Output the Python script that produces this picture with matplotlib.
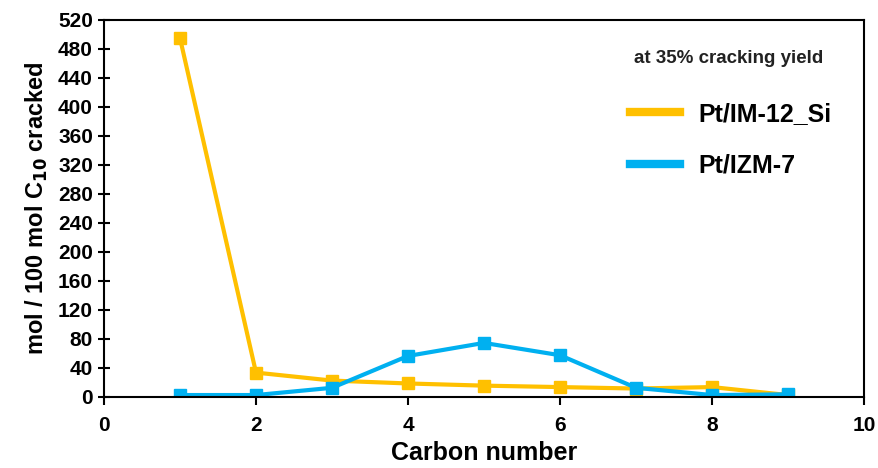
import matplotlib.pyplot as plt

plt.rcParams['font.family'] = ['Liberation Sans', 'DejaVu Sans']
plt.rcParams['font.weight'] = 'bold'

carbon = [1, 2, 3, 4, 5, 6, 7, 8, 9]
im12_si = [495, 33, 22, 18, 15, 13, 11, 13, 2]
izm7 = [2, 2, 12, 56, 74, 57, 12, 2, 3]

fig = plt.figure(figsize=(8.79, 4.68), dpi=100)
ax = fig.add_axes([104 / 879, 1 - 396.5 / 468, 760 / 879, 376.5 / 468])

ax.plot(carbon, im12_si, color='#FFC000', lw=3, marker='s', ms=9, label='Pt/IM-12_Si')
ax.plot(carbon, izm7, color='#00B0F0', lw=3, marker='s', ms=9, label='Pt/IZM-7')

ax.set_xlim(0, 10)
ax.set_ylim(0, 520)
ax.set_xticks(range(0, 11, 2))
ax.set_yticks(range(0, 521, 40))
ax.tick_params(axis='x', direction='out', length=6, width=1.5, labelsize=15, pad=8)
ax.tick_params(axis='y', direction='inout', length=9, width=1.5, labelsize=15)
for lab in ax.get_xticklabels() + ax.get_yticklabels():
    lab.set_fontweight('bold')
for sp in ax.spines.values():
    sp.set_linewidth(1.5)

ax.set_xlabel('Carbon number', fontsize=18, fontweight='bold', labelpad=4)
ax.set_ylabel('mol / 100 mol C$_{\\mathbf{10}}$ cracked', fontsize=17, fontweight='bold',
              labelpad=6)

# legend without markers, thick lines like the original
leg = ax.legend(loc='upper left', bbox_to_anchor=(0.663, 0.842), frameon=False,
                prop={'size': 18, 'weight': 'bold'}, handlelength=2.0,
                handletextpad=0.7, labelspacing=1.1)
for h in leg.legend_handles:
    h.set_marker('')
    h.set_linewidth(6)
ax.text(0.822, 0.899, 'at 35% cracking yield', transform=ax.transAxes,
        ha='center', va='center', fontsize=13.5, fontweight='bold', color='#222222')

fig.savefig('out.png', dpi=100)
